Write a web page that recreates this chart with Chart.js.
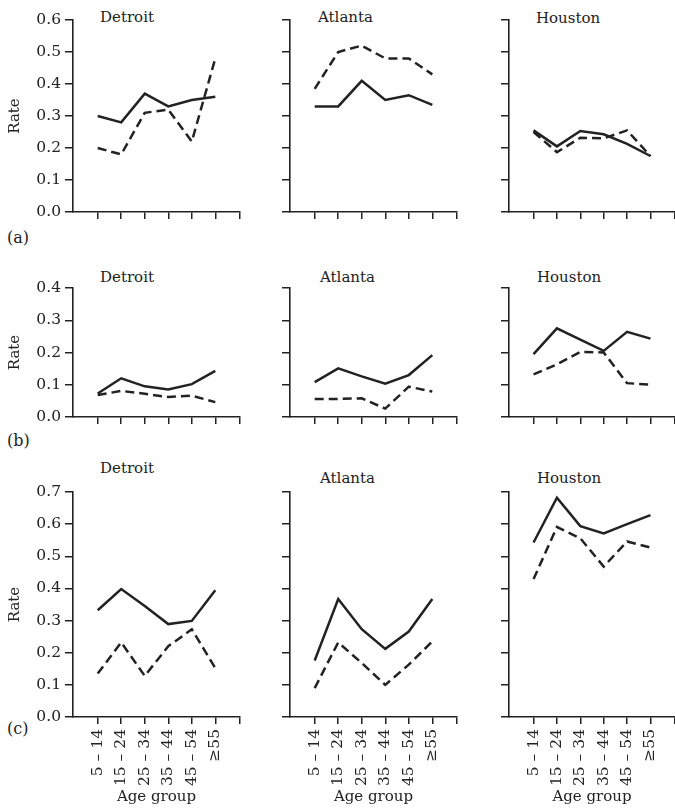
<!DOCTYPE html>
<html>
<head>
<meta charset="utf-8">
<script src="https://cdn.jsdelivr.net/npm/chart.js@4.4.1/dist/chart.umd.min.js"></script>
<style>
  body { margin: 0; background: #fff; width: 675px; height: 808px; position: relative; overflow: hidden;
         font-family: "DejaVu Serif", serif; color: #222; }
  canvas { position: absolute; }
  .city { position: absolute; font-size: 15px; line-height: 18px; white-space: nowrap; }
  .tag { position: absolute; font-size: 16px; line-height: 20px; }
</style>
</head>
<body>
<div class="city" style="left:100px;top:8px">Detroit</div>
<div class="city" style="left:318px;top:8px">Atlanta</div>
<div class="city" style="left:536px;top:9px">Houston</div>
<div class="city" style="left:100px;top:268px">Detroit</div>
<div class="city" style="left:320px;top:268px">Atlanta</div>
<div class="city" style="left:537px;top:268px">Houston</div>
<div class="city" style="left:100px;top:459px">Detroit</div>
<div class="city" style="left:320px;top:469px">Atlanta</div>
<div class="city" style="left:537px;top:469px">Houston</div>
<div class="tag" style="left:7px;top:228px">(a)</div>
<div class="tag" style="left:7px;top:431px">(b)</div>
<div class="tag" style="left:7px;top:719px">(c)</div>

<script>
const ageGroups = ["5 – 14", "15 – 24", "25 – 34", "35 – 44", "45 – 54", "≥55"];
const rowMax = [0.6, 0.4, 0.7];

// (a)
const detroitSolidA  = [0.30, 0.28, 0.37, 0.33, 0.35, 0.36];
const detroitDashedA = [0.20, 0.18, 0.31, 0.32, 0.22, 0.48];
const atlantaSolidA  = [0.33, 0.33, 0.41, 0.35, 0.365, 0.335];
const atlantaDashedA = [0.385, 0.50, 0.52, 0.48, 0.48, 0.43];
const houstonSolidA  = [0.255, 0.205, 0.253, 0.243, 0.213, 0.175];
const houstonDashedA = [0.25, 0.187, 0.232, 0.23, 0.255, 0.175];

// (b)
const detroitSolidB  = [0.073, 0.12, 0.095, 0.085, 0.102, 0.143];
const detroitDashedB = [0.068, 0.081, 0.072, 0.062, 0.066, 0.046];
const atlantaSolidB  = [0.108, 0.151, 0.126, 0.103, 0.13, 0.192];
const atlantaDashedB = [0.056, 0.056, 0.058, 0.026, 0.094, 0.079];
const houstonSolidB  = [0.195, 0.275, 0.24, 0.205, 0.264, 0.243];
const houstonDashedB = [0.132, 0.163, 0.202, 0.20, 0.105, 0.10];

// (c)
const detroitSolidC  = [0.332, 0.398, 0.345, 0.289, 0.299, 0.394];
const detroitDashedC = [0.135, 0.232, 0.128, 0.22, 0.273, 0.152];
const atlantaSolidC  = [0.176, 0.367, 0.273, 0.212, 0.266, 0.367];
const atlantaDashedC = [0.09, 0.232, 0.168, 0.10, 0.163, 0.235];
const houstonSolidC  = [0.543, 0.682, 0.594, 0.571, 0.60, 0.628];
const houstonDashedC = [0.429, 0.591, 0.556, 0.468, 0.546, 0.527];

const solid = [
  [detroitSolidA, atlantaSolidA, houstonSolidA],
  [detroitSolidB, atlantaSolidB, houstonSolidB],
  [detroitSolidC, atlantaSolidC, houstonSolidC]
];
const dashed = [
  [detroitDashedA, atlantaDashedA, houstonDashedA],
  [detroitDashedB, atlantaDashedB, houstonDashedB],
  [detroitDashedC, atlantaDashedC, houstonDashedC]
];

// panel geometry (page pixels)
const cols = [
  { left: 0,   width: 245, axisW: 73, padR: 5 },
  { left: 245, width: 215, axisW: 45, padR: 3 },
  { left: 460, width: 215, axisW: 49, padR: 0 }
];
const rows = [
  { top: 0,   height: 230, padT: 20, axisH: 18 },
  { top: 260, height: 175, padT: 28, axisH: 18 },
  { top: 460, height: 348, padT: 32, axisH: 91 }
];

const ink = "#222";
Chart.defaults.font.family = "'DejaVu Serif', serif";
Chart.defaults.font.size = 15;
Chart.defaults.color = "#222";

function points(vals) {
  return vals.map((v, i) => ({ x: i, y: v }));
}

function makePanel(r, c) {
  const col = cols[c], row = rows[r];
  const canvas = document.createElement("canvas");
  canvas.width = col.width;
  canvas.height = row.height;
  canvas.style.left = col.left + "px";
  canvas.style.top = row.top + "px";
  document.body.appendChild(canvas);

  const lastRow = r === 2;
  const firstCol = c === 0;

  new Chart(canvas, {
    type: "line",
    data: {
      datasets: [
        { data: points(solid[r][c]), borderColor: ink, borderWidth: 2.5, pointRadius: 0, tension: 0 },
        { data: points(dashed[r][c]), borderColor: ink, borderWidth: 2.5, borderDash: [9, 5], pointRadius: 0, tension: 0 }
      ]
    },
    options: {
      responsive: false,
      animation: false,
      events: [],
      layout: { padding: { top: row.padT, right: col.padR, left: 0, bottom: 0 } },
      plugins: { legend: { display: false }, tooltip: { enabled: false } },
      scales: {
        x: {
          type: "linear",
          min: -1.05,
          max: 6.05,
          border: { display: true, color: ink, width: 1.6 },
          grid: { drawOnChartArea: false, drawTicks: true, tickLength: 7, color: ink, lineWidth: 1.5 },
          afterBuildTicks: s => {
            s.ticks = ageGroups.map((_, i) => ({ value: i })).concat([{ value: s.max }]);
          },
          afterFit: s => { s.height = row.axisH; s.paddingLeft = 0; s.paddingRight = 0; },
          ticks: {
            display: lastRow,
            autoSkip: false,
            minRotation: 90,
            maxRotation: 90,
            padding: 5,
            font: { size: 15.5 },
            callback: v => (Number.isInteger(v) && v >= 0 && v < ageGroups.length) ? ageGroups[v] : ""
          },
          title: { display: lastRow, text: "Age group", padding: { top: 0, bottom: 2 } }
        },
        y: {
          min: 0,
          max: rowMax[r],
          border: { display: true, color: ink, width: 1.6 },
          grid: { drawOnChartArea: false, drawTicks: true, tickLength: 8, color: ink, lineWidth: 1.5 },
          afterFit: s => { s.width = col.axisW; s.paddingTop = 0; s.paddingBottom = 0; },
          ticks: {
            display: firstCol,
            stepSize: 0.1,
            padding: 4,
            font: { size: 15.5 },
            callback: v => v.toFixed(1)
          },
          title: { display: firstCol, text: "Rate", padding: { top: 6, bottom: 0 } }
        }
      }
    }
  });
}

for (let r = 0; r < 3; r++) {
  for (let c = 0; c < 3; c++) makePanel(r, c);
}
</script>
</body>
</html>
